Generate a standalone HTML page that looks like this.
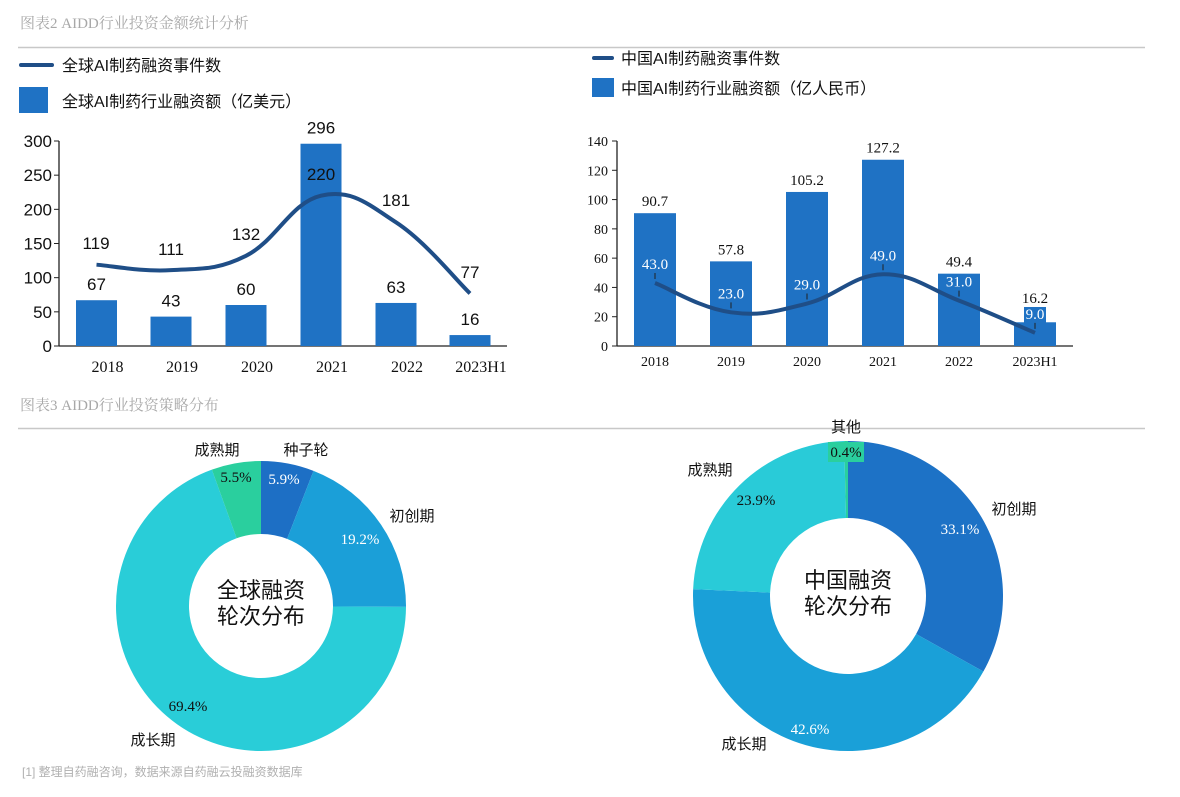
<!DOCTYPE html>
<html><head><meta charset="utf-8">
<style>
body{margin:0;background:#fff;width:1180px;height:797px;overflow:hidden}
svg{display:block}
.cn{font-family:"Liberation Sans","Noto Sans CJK SC",sans-serif}
.sf{font-family:"Liberation Serif","Noto Serif CJK SC",serif}
</style></head><body>
<svg id="s" width="1180" height="797" xmlns="http://www.w3.org/2000/svg">
<text x="20" y="28" class="sf" font-size="15" fill="#a8a8a8">图表2 AIDD行业投资金额统计分析</text>
<line x1="18" y1="47.5" x2="1145" y2="47.5" stroke="#c8c8c8" stroke-width="1.5"/>
<text x="20" y="410" class="sf" font-size="15" fill="#a8a8a8">图表3 AIDD行业投资策略分布</text>
<line x1="18" y1="428.5" x2="1145" y2="428.5" stroke="#c8c8c8" stroke-width="1.5"/>
<text x="22" y="776" class="cn" font-size="12" fill="#b0b0b0">[1] 整理自药融咨询，数据来源自药融云投融资数据库</text>

<line x1="21" y1="65" x2="52" y2="65" stroke="#1f4e87" stroke-width="4" stroke-linecap="round"/>
<text x="62" y="71" class="cn" font-size="16" fill="#111">全球AI制药融资事件数</text>
<rect x="19" y="87" width="29" height="26" fill="#1f72c4"/>
<text x="62" y="107" class="cn" font-size="16" fill="#111">全球AI制药行业融资额（亿美元）</text>
<line x1="594" y1="58" x2="612" y2="58" stroke="#1f4e87" stroke-width="4" stroke-linecap="round"/>
<text x="621" y="64" class="cn" font-size="16" fill="#111">中国AI制药融资事件数</text>
<rect x="592" y="78" width="22" height="19" fill="#1f72c4"/>
<text x="621" y="94" class="cn" font-size="16" fill="#111">中国AI制药行业融资额（亿人民币）</text>
<g id="g"></g>
</svg>
<script>
var g=document.getElementById('g'),h='';
function T(x,y,t,o){o=o||{};h+='<text x="'+x+'" y="'+y+'" font-size="'+(o.fs||16)+'" fill="'+(o.c||'#111')+'" text-anchor="'+(o.a||'middle')+'" class="'+(o.cl||'cn')+'">'+t+'</text>';}
var yrs=['2018','2019','2020','2021','2022','2023H1'];
var L={k:205/300,cx:[96.5,171,246,321,396,470],bar:[67,43,60,296,63,16],ln:[119,111,132,220,181,77]};
h+='<line x1="59" y1="141" x2="59" y2="346" stroke="#222" stroke-width="1.3"/><line x1="59" y1="346" x2="507" y2="346" stroke="#222" stroke-width="1.3"/>';
for(var i=0;i<=6;i++){var y=346-i*50*L.k;h+='<line x1="54" y1="'+y+'" x2="59" y2="'+y+'" stroke="#222"/>';T(52,y+6,i*50,{a:'end',fs:17});}
function smooth(pts){var d='M'+pts[0][0]+','+pts[0][1];for(var i=0;i<pts.length-1;i++){var p0=pts[i-1]||pts[i],p1=pts[i],p2=pts[i+1],p3=pts[i+2]||p2;var t=0.2;d+=' C'+(p1[0]+(p2[0]-p0[0])*t)+','+(p1[1]+(p2[1]-p0[1])*t)+' '+(p2[0]-(p3[0]-p1[0])*t)+','+(p2[1]-(p3[1]-p1[1])*t)+' '+p2[0]+','+p2[1];}return d;}
var pts=[];
for(i=0;i<6;i++){var c=L.cx[i],bt=346-L.bar[i]*L.k;h+='<rect x="'+(c-20.5)+'" y="'+bt+'" width="41" height="'+(346-bt)+'" fill="#1f72c4"/>';T(c,bt-10,L.bar[i],{fs:17});T(c+11,372,yrs[i],{cl:'sf',fs:16});pts.push([c,346-L.ln[i]*L.k]);}
h+='<path d="'+smooth(pts)+'" fill="none" stroke="#1f4e87" stroke-width="4"/>';
var lo=[[96,249],[171,255],[246,240],[321,180],[396,206],[470,278]];
for(i=0;i<6;i++)T(lo[i][0],lo[i][1],L.ln[i],{fs:17});
var R={k:205/140,cx:[655,731,807,883,959,1035],bar:[90.7,57.8,105.2,127.2,49.4,16.2],ln:[43,23,29,49,31,9]};
h+='<line x1="617" y1="141" x2="617" y2="346" stroke="#222" stroke-width="1.3"/><line x1="617" y1="346" x2="1073" y2="346" stroke="#222" stroke-width="1.3"/>';
for(i=0;i<=7;i++){var y=346-i*20*R.k;h+='<line x1="612" y1="'+y+'" x2="617" y2="'+y+'" stroke="#222"/>';T(608,y+5,i*20,{a:'end',fs:14,cl:'sf'});}
pts=[];
for(i=0;i<6;i++){var c=R.cx[i],bt=346-R.bar[i]*R.k;h+='<rect x="'+(c-21)+'" y="'+bt+'" width="42" height="'+(346-bt)+'" fill="#1f72c4"/>';var ly=(i==5)?303:bt-7;T(c,ly,R.bar[i].toFixed(1),{fs:15,cl:'sf'});T(c,366,yrs[i],{cl:'sf',fs:14});pts.push([c,346-R.ln[i]*R.k]);}
h+='<rect x="1024" y="307" width="22" height="16" fill="#1f72c4"/>';
h+='<path d="'+smooth(pts)+'" fill="none" stroke="#1f4e87" stroke-width="4"/>';
for(i=0;i<6;i++){var p=pts[i];h+='<line x1="'+p[0]+'" y1="'+(p[1]-4)+'" x2="'+p[0]+'" y2="'+(p[1]-10)+'" stroke="#222"/>';T(p[0],p[1]-14,R.ln[i].toFixed(1),{fs:15,cl:'sf',c:'#fff'});}
function donut(cx,cy,r,ri,data){var a=0;data.forEach(function(d){var a1=a+d[0]*3.6;var f=function(ang,rr){var t=(ang-90)*Math.PI/180;return (cx+rr*Math.cos(t))+','+(cy+rr*Math.sin(t));};var lg=(a1-a)>180?1:0;h+='<path d="M'+f(a,r)+' A'+r+','+r+' 0 '+lg+' 1 '+f(a1,r)+' L'+f(a1,ri)+' A'+ri+','+ri+' 0 '+lg+' 0 '+f(a,ri)+' Z" fill="'+d[1]+'"/>';a=a1;});}
donut(261,606,145,72,[[5.9,'#1d6fc5'],[19.2,'#1b9fd8'],[69.4,'#29cdd8'],[5.5,'#2acf9e']]);
donut(848,596,155,78,[[33.1,'#1d72c6'],[42.6,'#1aa0d8'],[23.9,'#29cbd8'],[0.4,'#2acf9e']]);
h+='<rect x="828" y="442" width="36" height="20" fill="#2acf9e"/>';
var W='#fff',K='#111';
T(284,484,'5.9%',{cl:'sf',fs:15,c:W});T(236,482,'5.5%',{cl:'sf',fs:15,c:K});T(360,544,'19.2%',{cl:'sf',fs:15,c:W});T(188,711,'69.4%',{cl:'sf',fs:15,c:K});
T(217,455,'成熟期',{fs:15});T(306,455,'种子轮',{fs:15});T(412,521,'初创期',{fs:15});T(153,745,'成长期',{fs:15});
T(261,598,'全球融资',{fs:22});T(261,624,'轮次分布',{fs:22});
T(846,457,'0.4%',{cl:'sf',fs:15});T(846,432,'其他',{fs:15});T(710,475,'成熟期',{fs:15});T(756,505,'23.9%',{cl:'sf',fs:15});
T(960,534,'33.1%',{cl:'sf',fs:15,c:W});T(1014,514,'初创期',{fs:15});T(810,734,'42.6%',{cl:'sf',fs:15,c:W});T(744,749,'成长期',{fs:15});
T(848,588,'中国融资',{fs:22});T(848,614,'轮次分布',{fs:22});
g.innerHTML=h;
</script>
</body></html>
